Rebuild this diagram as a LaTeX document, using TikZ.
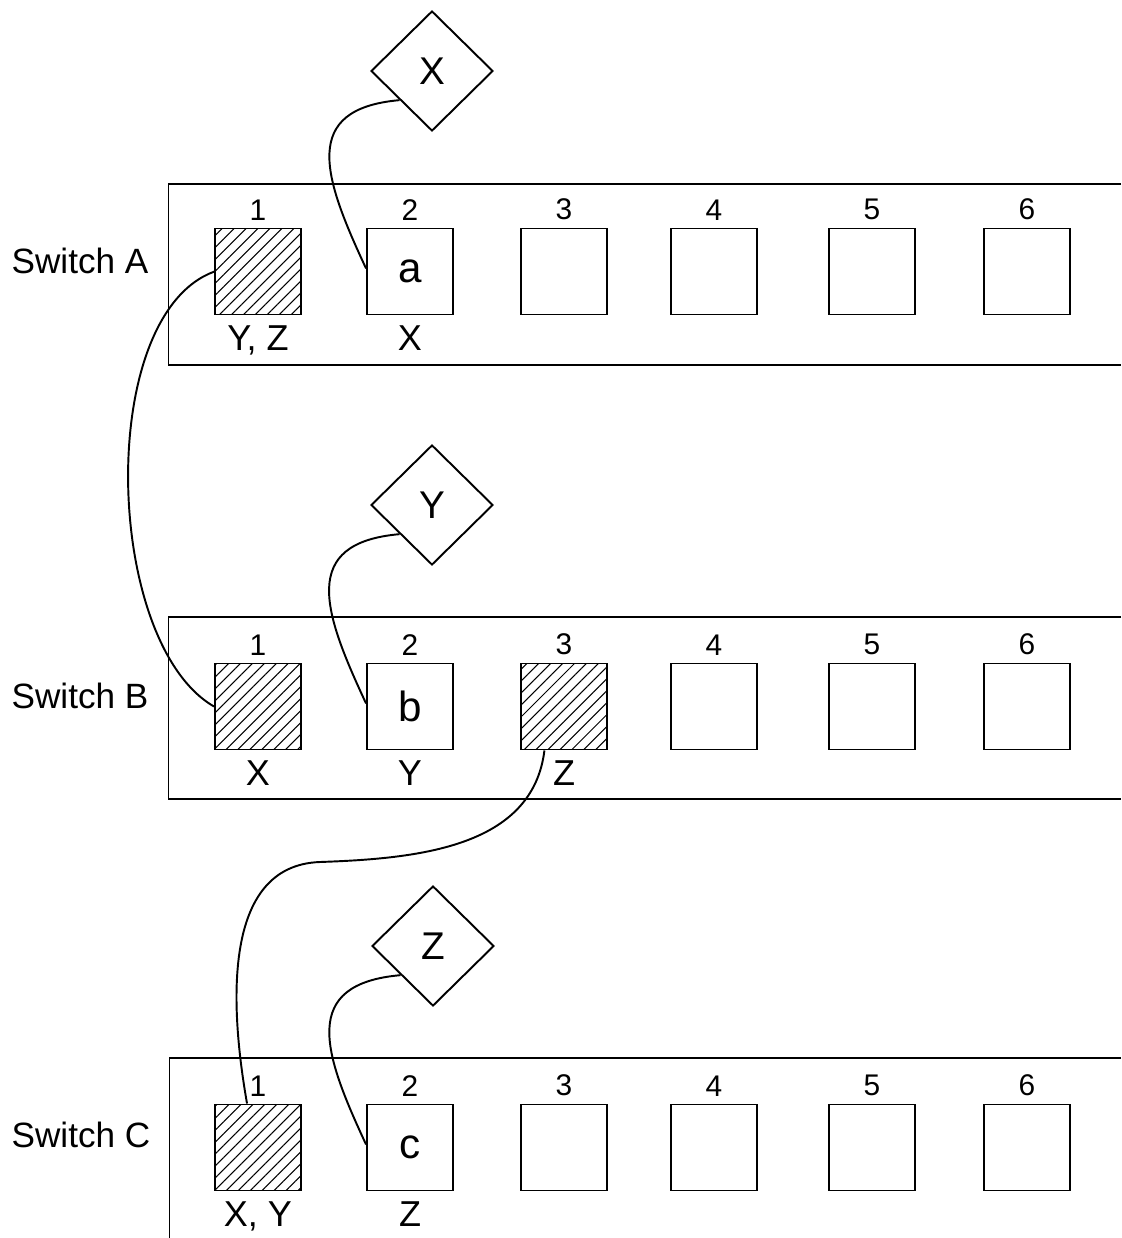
\documentclass[tikz,border=0pt]{standalone}
\usepackage{fontspec}
\setmainfont{Liberation Sans}
\usetikzlibrary{shapes.geometric,patterns.meta}

\begin{document}
\begin{tikzpicture}[
  port/.style={draw, line width=1.1pt, minimum size=1.72cm, inner sep=0pt, font=\fontsize{24}{28}\selectfont},
  hatched/.style={port, pattern={Lines[angle=45,distance=4.8pt,line width=0.6pt]}},
  host/.style={draw, diamond, line width=1.1pt, minimum width=2.44cm, minimum height=2.4cm, inner sep=0pt, font=\fontsize{22}{26}\selectfont},
  num/.style={font=\fontsize{17}{20}\selectfont, inner sep=0pt, label distance=0.14cm},
  vlan/.style={font=\fontsize{20.5}{24}\selectfont, inner sep=0pt, label distance=0.2cm},
  swname/.style={font=\fontsize{20}{24}\selectfont},
  panel/.style={line width=1.1pt},
  cable/.style={line width=1.1pt}
]
  \useasboundingbox (0,0) rectangle (22.42,-24.76);
  % panels
	\draw [panel] (22.42,-3.68) -| (3.37,-7.30) -- (22.42,-7.30);
	\draw [panel] (22.42,-12.34) -| (3.37,-15.98) -- (22.42,-15.98);
	\draw [panel] (22.42,-21.16) -| (3.39,-24.76);
	% nodes
	\node [swname] (swA) at (1.60,-5.22) {Switch A};
	\node [swname] (swB) at (1.60,-13.92) {Switch B};
	\node [swname] (swC) at (1.62,-22.70) {Switch C};
	\node [host] (hX) at (8.64,-1.42) {X};
	\node [host] (hY) at (8.64,-10.10) {Y};
	\node [host] (hZ) at (8.66,-18.92) {Z};
	%% switch A
	\node [hatched, label={[num]above:1}, label={[vlan]below:{Y, Z}}] (A1) at (5.16,-5.43) {};
	\node [port, label={[num]above:2}, label={[vlan]below:X}] (A2) at (8.20,-5.43) {a};
	\node [port, label={[num]above:3}] (A3) at (11.28,-5.43) {};
	\node [port, label={[num]above:4}] (A4) at (14.28,-5.43) {};
	\node [port, label={[num]above:5}] (A5) at (17.44,-5.43) {};
	\node [port, label={[num]above:6}] (A6) at (20.54,-5.43) {};
	%% switch B
	\node [hatched, label={[num]above:1}, label={[vlan]below:X}] (B1) at (5.16,-14.13) {};
	\node [port, label={[num]above:2}, label={[vlan]below:Y}] (B2) at (8.20,-14.13) {b};
	\node [hatched, label={[num]above:3}, label={[vlan]below:Z}] (B3) at (11.28,-14.13) {};
	\node [port, label={[num]above:4}] (B4) at (14.28,-14.13) {};
	\node [port, label={[num]above:5}] (B5) at (17.44,-14.13) {};
	\node [port, label={[num]above:6}] (B6) at (20.54,-14.13) {};
	%% switch C
	\node [hatched, label={[num]above:1}, label={[vlan]below:{X, Y}}] (C1) at (5.16,-22.95) {};
	\node [port, label={[num]above:2}, label={[vlan]below:Z}] (C2) at (8.20,-22.95) {c};
	\node [port, label={[num]above:3}] (C3) at (11.28,-22.95) {};
	\node [port, label={[num]above:4}] (C4) at (14.28,-22.95) {};
	\node [port, label={[num]above:5}] (C5) at (17.44,-22.95) {};
	\node [port, label={[num]above:6}] (C6) at (20.54,-22.95) {};
	\coordinate (bend) at (6.40,-17.24);
	% edges
	\draw [cable] (hX.222) to [out=185, in=115, looseness=1.5] (A2.176);
	\draw [cable] (hY.222) to [out=185, in=115, looseness=1.5] (B2.176);
	\draw [cable] (hZ.222) to [out=185, in=115, looseness=1.5] (C2.176);
	\draw [cable] (A1.west) to [out=200, in=150, looseness=0.75] (B1.west);
	\draw [cable] (B3.246) to [out=-97, in=2] (bend) to [out=182, in=100] (C1.104);
\end{tikzpicture}
\end{document}
